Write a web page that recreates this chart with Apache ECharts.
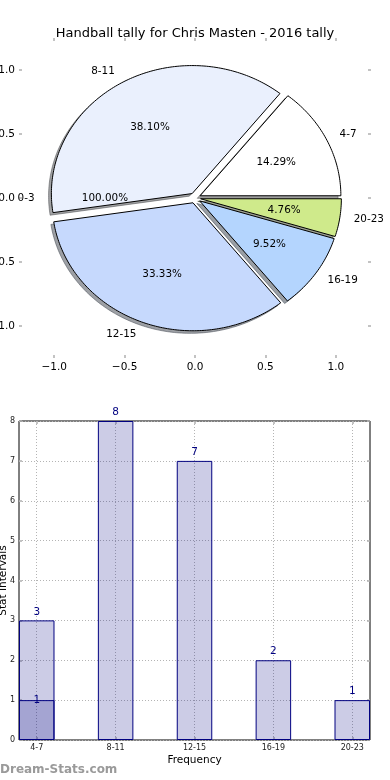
<!DOCTYPE html>
<html><head><meta charset="utf-8">
<script src="https://cdn.jsdelivr.net/npm/echarts@6/dist/echarts.min.js"></script>
<style>html,body{margin:0;padding:0;background:#fff}#c{width:390px;height:780px}</style>
</head><body><div id="c"></div>
<script>
const chartTitle = 'Handball tally for Chris Masten - 2016 tally';
const pieCategories = ['0-3', '4-7', '8-11', '12-15', '16-19', '20-23'];
const pieValues = [0, 3, 8, 7, 2, 1];
const piePctLabels = ['100.00%', '14.29%', '38.10%', '33.33%', '9.52%', '4.76%'];
const pieColors = ['#ffffff', '#ffffff', '#eaf0fd', '#c6d9fd', '#b4d5fe', '#cfea8b'];
const pieAxisTicks = [-1, -0.5, 0, 0.5, 1];
const barCategories = ['4-7', '8-11', '12-15', '16-19', '20-23'];
const barValues = [3, 8, 7, 2, 1];
const barOverlayValues = [1, null, null, null, null];
const barXName = 'Frequency';
const barYName = 'Stat Intervals';
const watermark = 'Dream-Stats.com';

const FONT = 'DejaVu Sans';
const EXPLODE = 0.04;
const total = pieValues.reduce((a, b) => a + b, 0);
const slices = [];
let cum = 0;
pieValues.forEach((v) => {
  const a0 = cum / total * 360; cum += v; const a1 = cum / total * 360;
  slices.push({ a0, a1, mid: v === 0 ? 180 : (a0 + a1) / 2, v });
});

function shadowColor(hex) {
  const r = parseInt(hex.slice(1, 3), 16), g = parseInt(hex.slice(3, 5), 16), b = parseInt(hex.slice(5, 7), 16);
  return `rgba(${Math.round(r * 0.3)},${Math.round(g * 0.3)},${Math.round(b * 0.3)},0.5)`;
}
function slicePts(api, s, ox, oy) {
  const m = s.mid * Math.PI / 180;
  const cx = EXPLODE * Math.cos(m) + ox, cy = EXPLODE * Math.sin(m) + oy;
  const pts = [api.coord([cx, cy])];
  const n = Math.max(2, Math.ceil(s.a1 - s.a0));
  for (let k = 0; k <= n; k++) {
    const a = (s.a0 + (s.a1 - s.a0) * k / n) * Math.PI / 180;
    pts.push(api.coord([cx + Math.cos(a), cy + Math.sin(a)]));
  }
  return pts;
}
const pieData = pieValues.map((v) => [0, 0, v]);
const pctFmt = (v) => (v < 0 ? '\u2212' : '') + Math.abs(v).toFixed(1);
const tickStyle = { show: true, inside: true, length: 3, lineStyle: { color: '#b0b0b0', width: 1.5 } };
const noLine = { show: false, onZero: false };

const option = {
  animation: false,
  textStyle: { fontFamily: FONT },
  title: { text: chartTitle, left: 'center', top: 22, textStyle: { fontSize: 13, fontWeight: 'normal', color: '#000', fontFamily: FONT } },
  graphic: [{ type: 'text', left: 0, top: 764, style: { text: watermark, fill: '#9a9a9a', fontSize: 12, fontFamily: FONT, fontWeight: 'bold' } }],
  grid: [
    { left: 19, top: 38, width: 352, height: 320, show: false, containLabel: false, outerBoundsMode: 'none' },
    { left: 19, top: 421, width: 351, height: 319, show: true, borderColor: '#000', borderWidth: 1, backgroundColor: 'transparent', containLabel: false, outerBoundsMode: 'none' }
  ],
  xAxis: [
    { gridIndex: 0, type: 'value', min: -1.25, max: 1.25, position: 'bottom', axisLine: noLine,
      axisTick: Object.assign({ customValues: pieAxisTicks }, tickStyle), splitLine: { show: false },
      axisLabel: { customValues: pieAxisTicks, formatter: pctFmt, fontSize: 10.5, color: '#000', margin: 4, fontFamily: FONT } },
    { gridIndex: 0, type: 'value', min: -1.25, max: 1.25, position: 'top', axisLine: noLine,
      axisTick: Object.assign({ customValues: pieAxisTicks }, tickStyle), splitLine: { show: false },
      axisLabel: { show: false, customValues: pieAxisTicks } },
    { gridIndex: 1, type: 'value', min: -0.225, max: 4.225, position: 'bottom', axisLine: noLine,
      axisTick: Object.assign({ customValues: [0, 1, 2, 3, 4] }, tickStyle),
      splitLine: { show: true, lineStyle: { type: [1, 2], color: '#b4b4b4', width: 1 } },
      axisLabel: { customValues: [0, 1, 2, 3, 4], formatter: (v) => barCategories[Math.round(v)], fontSize: 8, color: '#222', margin: 4, fontFamily: FONT },
      name: barXName, nameLocation: 'middle', nameGap: 15, nameTextStyle: { fontSize: 10.5, color: '#000', fontFamily: FONT } },
    { gridIndex: 1, type: 'value', min: -0.225, max: 4.225, position: 'top', axisLine: noLine,
      axisTick: Object.assign({ customValues: [0, 1, 2, 3, 4] }, tickStyle), splitLine: { show: false },
      axisLabel: { show: false, customValues: [0, 1, 2, 3, 4] } }
  ],
  yAxis: [
    { gridIndex: 0, type: 'value', min: -1.25, max: 1.25, position: 'left', axisLine: noLine,
      axisTick: Object.assign({ customValues: pieAxisTicks }, tickStyle), splitLine: { show: false },
      axisLabel: { customValues: pieAxisTicks, formatter: pctFmt, fontSize: 10.5, color: '#000', margin: 4, fontFamily: FONT } },
    { gridIndex: 0, type: 'value', min: -1.25, max: 1.25, position: 'right', axisLine: noLine,
      axisTick: Object.assign({ customValues: pieAxisTicks }, tickStyle), splitLine: { show: false },
      axisLabel: { show: false, customValues: pieAxisTicks } },
    { gridIndex: 1, type: 'value', min: 0, max: 8, interval: 1, position: 'left', axisLine: noLine,
      axisTick: tickStyle,
      splitLine: { show: true, lineStyle: { type: [1, 2], color: '#b4b4b4', width: 1 } },
      axisLabel: { fontSize: 8, color: '#222', margin: 4, fontFamily: FONT },
      name: barYName, nameLocation: 'middle', nameGap: 10, nameRotate: 90, nameMoveOverlap: false,
      nameTextStyle: { fontSize: 10.5, color: '#000', fontFamily: FONT } },
    { gridIndex: 1, type: 'value', min: 0, max: 8, interval: 1, position: 'right', axisLine: noLine,
      axisTick: tickStyle, splitLine: { show: false }, axisLabel: { show: false } }
  ],
  series: [
    { type: 'custom', xAxisIndex: 0, yAxisIndex: 0, data: pieData, silent: true, z: 1,
      renderItem: (params, api) => {
        const s = slices[params.dataIndex];
        if (s.v === 0) return { type: 'group', children: [] };
        const c = shadowColor(pieColors[params.dataIndex]);
        return { type: 'polygon', shape: { points: slicePts(api, s, -0.02, -0.02) }, style: { fill: c, stroke: c, lineWidth: 1 } };
      } },
    { type: 'custom', xAxisIndex: 0, yAxisIndex: 0, data: pieData, silent: true, z: 2,
      renderItem: (params, api) => {
        const s = slices[params.dataIndex];
        if (s.v === 0) return { type: 'group', children: [] };
        return { type: 'polygon', shape: { points: slicePts(api, s, 0, 0) }, style: { fill: pieColors[params.dataIndex], stroke: '#000', lineWidth: 1 } };
      } },
    { type: 'custom', xAxisIndex: 0, yAxisIndex: 0, data: pieData, silent: true, z: 3,
      renderItem: (params, api) => {
        const i = params.dataIndex, s = slices[i];
        const m = s.mid * Math.PI / 180;
        const cx = EXPLODE * Math.cos(m), cy = EXPLODE * Math.sin(m);
        const lp = api.coord([cx + 1.1 * Math.cos(m), cy + 1.1 * Math.sin(m)]);
        const pp = api.coord([cx + 0.6 * Math.cos(m), cy + 0.6 * Math.sin(m)]);
        const xt = 1.1 * Math.cos(m);
        return { type: 'group', children: [
          { type: 'text', x: lp[0], y: lp[1], style: { text: pieCategories[i], fill: '#000', fontSize: 10.4, fontFamily: FONT, align: xt > 0 ? 'left' : 'right', verticalAlign: 'middle' } },
          { type: 'text', x: pp[0], y: pp[1], style: { text: piePctLabels[i], fill: '#000', fontSize: 10.4, fontFamily: FONT, align: 'center', verticalAlign: 'middle' } }
        ] };
      } },
    { type: 'bar', xAxisIndex: 2, yAxisIndex: 2, barWidth: 35.5, barGap: '-100%',
      data: barValues.map((v, i) => [i, v]),
      itemStyle: { color: 'rgba(0,0,128,0.2)', borderColor: '#000080', borderWidth: 1 },
      label: { show: true, position: 'top', distance: 3, color: '#000080', fontSize: 10.5, fontFamily: FONT } },
    { type: 'bar', xAxisIndex: 2, yAxisIndex: 2, barWidth: 35.5, barGap: '-100%',
      data: barOverlayValues.map((v, i) => [i, v]).filter((d) => d[1] !== null),
      itemStyle: { color: 'rgba(0,0,128,0.2)', borderColor: '#000080', borderWidth: 1 },
      label: { show: true, position: 'top', distance: -6, color: '#000080', fontSize: 10.5, fontFamily: FONT } }
  ]
};
const chart = echarts.init(document.getElementById('c'), null, { renderer: 'canvas' });
chart.setOption(option);
</script></body></html>
